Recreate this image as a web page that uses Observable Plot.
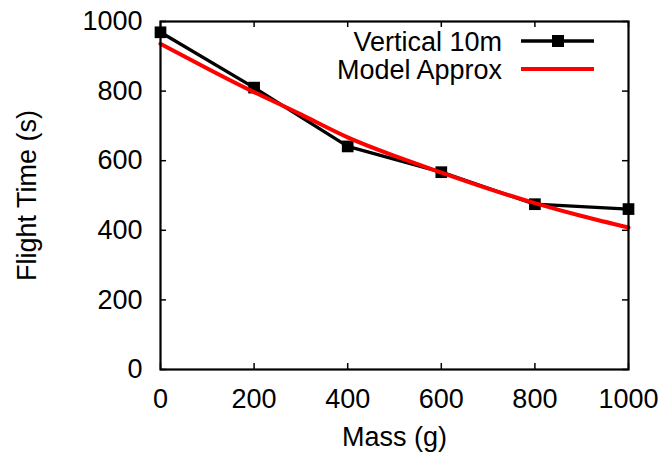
<!DOCTYPE html>
<html><head><meta charset="utf-8">
<script src="https://cdn.jsdelivr.net/npm/d3@7"></script>
<script src="https://cdn.jsdelivr.net/npm/@observablehq/plot@0.6"></script>
<style>
html,body{margin:0;padding:0;background:#fff;}
#wrap{position:relative;width:668px;height:457px;font-family:"Liberation Sans",Arial,sans-serif;}
#legend{position:absolute;left:0;top:0;}
</style>
</head><body>
<div id="wrap"></div>
<script>
const massTicks = [0, 200, 400, 600, 800, 1000];
const timeTicks = [0, 200, 400, 600, 800, 1000];
const measuredMass = [0, 200, 400, 600, 800, 1000];
const measuredTime = [969, 810, 641, 567, 475, 461];
const modelMass = [0, 100, 200, 300, 400, 500, 600, 700, 800, 900, 1000];
const modelTime = [936, 865, 797, 733, 667, 614, 566, 520, 478, 441, 408];
const seriesNames = ["Vertical 10m", "Model Approx"];
const seriesColors = ["#000000", "#ff0000"];

const measured = measuredMass.map((m, i) => ({mass: m, time: measuredTime[i]}));
const model = modelMass.map((m, i) => ({mass: m, time: modelTime[i]}));

const W = 668, H = 457, mL = 160, mR = 40, mT = 21, mB = 88;
const pw = W - mL - mR, ph = H - mT - mB, tk = 6;
const FS = 27;
const FONT = '"Liberation Sans", Arial, sans-serif';

const chart = Plot.plot({
  width: W, height: H,
  marginLeft: mL, marginRight: mR, marginTop: mT, marginBottom: mB,
  style: {fontFamily: FONT, fontSize: FS + "px", color: "#000", background: "#fff"},
  x: {domain: [0, 1000]},
  y: {domain: [0, 1000]},
  marks: [
    Plot.axisX(massTicks, {tickSize: 0, tickPadding: 19, fontSize: FS, tickFormat: d => String(d), label: "Mass (g)", labelAnchor: "center", labelArrow: "none", labelOffset: 76}),
    Plot.axisY(timeTicks, {tickSize: 0, tickPadding: 18, fontSize: FS, tickFormat: d => String(d), label: "Flight Time (s)", labelAnchor: "center", labelArrow: "none", labelOffset: 144}),
    Plot.tickX(massTicks, {x: d => d, insetTop: ph - tk, stroke: "#000", strokeWidth: 1.5}),
    Plot.tickX(massTicks, {x: d => d, insetBottom: ph - tk, stroke: "#000", strokeWidth: 1.5}),
    Plot.tickY(timeTicks, {y: d => d, insetRight: pw - tk, stroke: "#000", strokeWidth: 1.5}),
    Plot.tickY(timeTicks, {y: d => d, insetLeft: pw - tk, stroke: "#000", strokeWidth: 1.5}),
    Plot.line(measured, {x: "mass", y: "time", stroke: seriesColors[0], strokeWidth: 3.3}),
    Plot.dot(measured, {x: "mass", y: "time", symbol: "square", r: 6.6, fill: seriesColors[0], stroke: "none"}),
    Plot.line(model, {x: "mass", y: "time", stroke: seriesColors[1], strokeWidth: 4, curve: "natural"}),
    Plot.frame({stroke: "#000", strokeWidth: 2.2})
  ]
});
const wrap = document.getElementById("wrap");
wrap.appendChild(chart);

// legend overlay
const leg = d3.select(wrap).append("svg").attr("id", "legend").attr("width", W).attr("height", H);
const rows = [41, 69];
seriesNames.forEach((name, i) => {
  const g = leg.append("g").attr("transform", `translate(0,${rows[i]})`);
  g.append("text").attr("x", 502).attr("y", 0).attr("dy", "0.36em")
    .attr("text-anchor", "end").attr("font-size", FS)
    .attr("font-family", FONT).attr("fill", "#000").text(name);
  g.append("line").attr("x1", 521).attr("x2", 594).attr("y1", 0).attr("y2", 0)
    .attr("stroke", seriesColors[i]).attr("stroke-width", i === 0 ? 3.3 : 4);
  if (i === 0) g.append("rect").attr("x", 552).attr("y", -6).attr("width", 12).attr("height", 12).attr("fill", "#000");
});
</script>
</body></html>
